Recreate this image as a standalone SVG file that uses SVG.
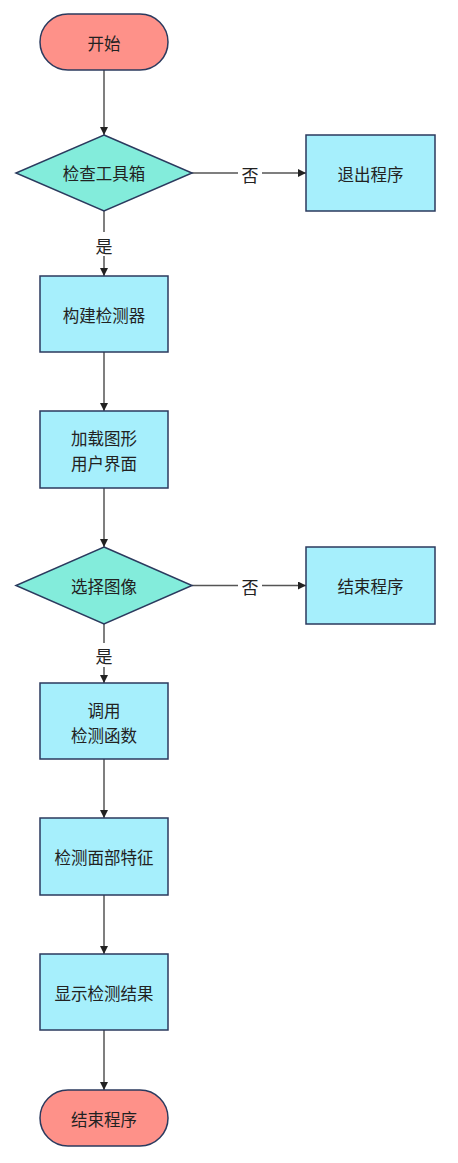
<svg xmlns="http://www.w3.org/2000/svg" width="458" height="1163" viewBox="0 0 458 1163">
<defs>
<marker id="arr" viewBox="0 0 10 10" refX="10" refY="5" markerWidth="8" markerHeight="8" markerUnits="userSpaceOnUse" orient="auto">
<path d="M0,0 L10,5 L0,10 z" fill="#222"/>
</marker>
</defs>
<style>
.term{fill:#fe9189;stroke:#2b3a5e;stroke-width:1.5}
.dec{fill:#83ecdb;stroke:#2b3a5e;stroke-width:1.5}
.proc{fill:#a6effc;stroke:#2b3a5e;stroke-width:1.5}
.t{font-family:"Noto Sans CJK SC","Noto Sans",sans-serif;font-size:16.5px;fill:#222;text-anchor:middle;dominant-baseline:central}
.e{stroke:#555;stroke-width:1.5;fill:none;marker-end:url(#arr)}
.lbl{font-family:"Noto Sans CJK SC","Noto Sans",sans-serif;font-size:17px;fill:#222;text-anchor:middle;dominant-baseline:central}
.bg{fill:#fff}
</style>
<rect width="458" height="1163" fill="#fff"/>
<g id="edges">
<path class="e" d="M104,70 L104,135"/>
<path class="e" d="M192,173 L306,173"/>
<path class="e" d="M104,211 L104,276"/>
<path class="e" d="M104,352 L104,411"/>
<path class="e" d="M104,488 L104,547"/>
<path class="e" d="M192,585.5 L306,585.5"/>
<path class="e" d="M104,624 L104,683"/>
<path class="e" d="M104,759 L104,818"/>
<path class="e" d="M104,895 L104,954"/>
<path class="e" d="M104,1030 L104,1090"/>
<rect class="bg" x="238" y="162" width="24" height="22"/>
<text class="lbl" x="250" y="174">否</text>
<rect class="bg" x="92" y="232" width="24" height="24"/>
<text class="lbl" x="104" y="245">是</text>
<rect class="bg" x="238" y="575" width="24" height="22"/>
<text class="lbl" x="250" y="586">否</text>
<rect class="bg" x="92" y="643" width="24" height="24"/>
<text class="lbl" x="104" y="655">是</text>
</g>
<g id="start">
<rect class="term" x="40" y="14" width="128" height="56" rx="28" ry="28"/>
<text class="t" x="104" y="43">开始</text>
</g>
<g id="check">
<polygon class="dec" points="104,135 192,173 104,211 16,173"/>
<text class="t" x="104" y="173">检查工具箱</text>
</g>
<g id="exit">
<rect class="proc" x="306" y="135" width="129" height="76"/>
<text class="t" x="370.5" y="174">退出程序</text>
</g>
<g id="build">
<rect class="proc" x="40" y="276" width="128" height="76"/>
<text class="t" x="104" y="315">构建检测器</text>
</g>
<g id="gui">
<rect class="proc" x="40" y="411" width="128" height="77"/>
<text class="t" x="104" y="438">加载图形</text>
<text class="t" x="104" y="463">用户界面</text>
</g>
<g id="select">
<polygon class="dec" points="104,547 192,585.5 104,624 16,585.5"/>
<text class="t" x="104" y="585.5">选择图像</text>
</g>
<g id="end1">
<rect class="proc" x="306" y="547" width="129" height="77"/>
<text class="t" x="370.5" y="586">结束程序</text>
</g>
<g id="call">
<rect class="proc" x="40" y="683" width="128" height="76"/>
<text class="t" x="104" y="710">调用</text>
<text class="t" x="104" y="735">检测函数</text>
</g>
<g id="detect">
<rect class="proc" x="40" y="818" width="128" height="77"/>
<text class="t" x="104" y="857">检测面部特征</text>
</g>
<g id="show">
<rect class="proc" x="40" y="954" width="128" height="76"/>
<text class="t" x="104" y="993">显示检测结果</text>
</g>
<g id="end2">
<rect class="term" x="40" y="1090" width="128" height="56" rx="28" ry="28"/>
<text class="t" x="104" y="1119">结束程序</text>
</g>
</svg>
